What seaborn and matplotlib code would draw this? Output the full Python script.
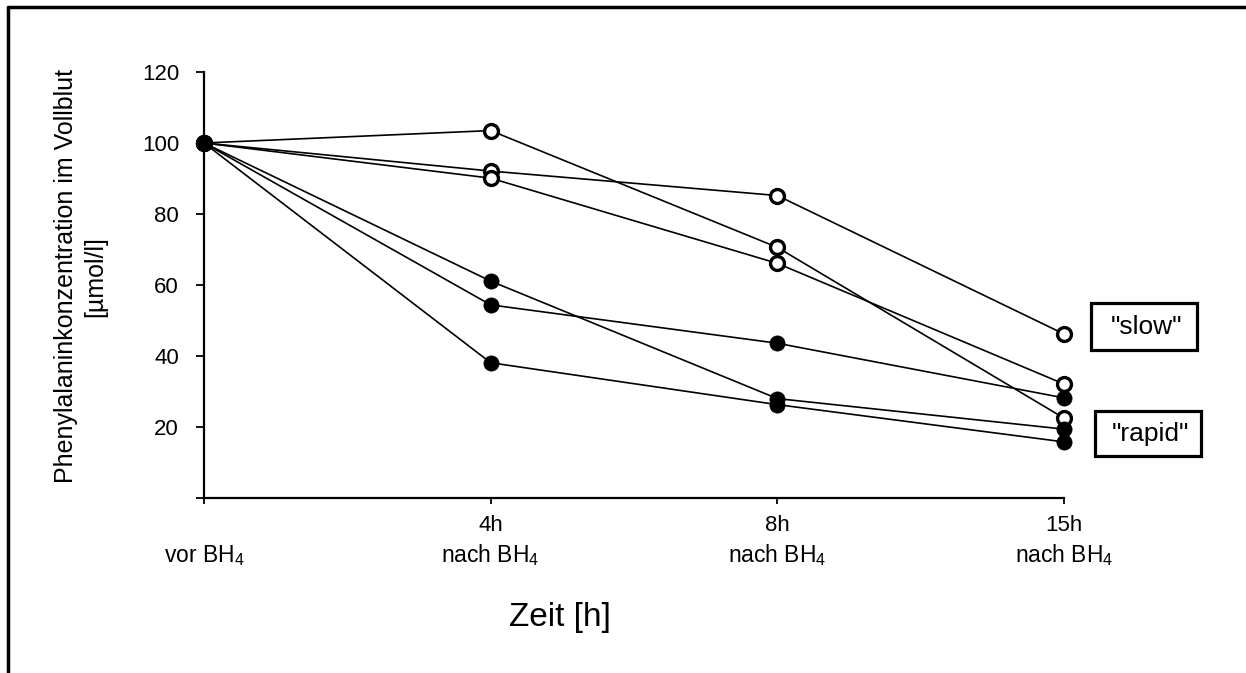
import numpy as np
import pandas as pd
import seaborn as sns
import matplotlib.pyplot as plt
from matplotlib.lines import Line2D
from matplotlib.patches import Rectangle

# Time points (category order on the x axis)
time_top = ["", "4h", "8h", "15h"]
time_bottom = ["vor BH$_4$", "nach BH$_4$", "nach BH$_4$", "nach BH$_4$"]

# Phe concentration in whole blood [umol/l]
slow_1 = [100, 103.5, 70.6, 22.5]
slow_2 = [100, 92.1, 85.2, 46.2]
slow_3 = [100, 90.1, 66.1, 32.1]
rapid_1 = [100, 61.1, 28.0, 19.4]
rapid_2 = [100, 54.4, 43.6, 28.2]
rapid_3 = [100, 38.1, 26.3, 15.8]

series = {"slow_1": slow_1, "slow_2": slow_2, "slow_3": slow_3,
          "rapid_1": rapid_1, "rapid_2": rapid_2, "rapid_3": rapid_3}

rows = []
for name, vals in series.items():
    for i, v in enumerate(vals):
        rows.append({"patient": name, "group": name.split("_")[0], "t": i, "phe": v})
df = pd.DataFrame(rows)

sns.set_style("ticks")
plt.rcParams['font.family'] = ['Liberation Sans', 'DejaVu Sans']
plt.rcParams['mathtext.default'] = 'regular'
for key in ['text.color', 'axes.labelcolor', 'xtick.color', 'ytick.color', 'axes.edgecolor']:
    plt.rcParams[key] = 'black'

fig = plt.figure(figsize=(12.46, 6.73), dpi=100)
ax = fig.add_axes([204 / 1246, 1 - 498 / 673, 860 / 1246, 426 / 673])

# connecting lines for each patient
sns.lineplot(data=df, x="t", y="phe", units="patient", estimator=None,
             color="black", linewidth=1.2, ax=ax, legend=False, zorder=2,
             clip_on=False)

# open circles = slow responders, filled = rapid responders
slow = df[df["group"] == "slow"]
rapid = df[df["group"] == "rapid"]
sns.scatterplot(data=slow, x="t", y="phe", marker="o", s=100, color="white",
                edgecolor="black", linewidth=2.4, ax=ax, legend=False, zorder=3,
                clip_on=False)
sns.scatterplot(data=rapid, x="t", y="phe", marker="o", s=120, color="black",
                edgecolor="black", linewidth=0.5, ax=ax, legend=False, zorder=4,
                clip_on=False)

ax.set_xlim(0, 3)
ax.set_ylim(0, 120)
ax.set_yticks(range(0, 121, 20))
ax.set_yticklabels([""] + [str(v) for v in range(20, 121, 20)], fontsize=16)
ax.set_xticks(range(len(time_top)))
ax.set_xticklabels(time_top, fontsize=16)
ax.tick_params(axis="y", length=6, width=1.3, pad=12)
ax.tick_params(axis="x", length=4, width=1.3, pad=8)

for i, lab in enumerate(time_bottom):
    ax.text(i, -0.135, lab, transform=ax.get_xaxis_transform(),
            ha="center", va="center", fontsize=16.5)

sns.despine(ax=ax)
for side in ["left", "bottom"]:
    ax.spines[side].set_linewidth(1.6)
ax.spines["left"].set_zorder(1)

ax.set_xlabel("Zeit [h]", fontsize=24)
ax.xaxis.set_label_coords(0.414, -0.243)
ax.set_ylabel("Phenylalaninkonzentration im Vollblut\n[µmol/l]",
              fontsize=18, linespacing=1.3)
ax.yaxis.set_label_coords(-0.112, 0.52)

# boxed group labels
for (x0, y0, x1, y1, txt) in [(1091, 303, 1197, 350, '"slow"'),
                              (1095, 411, 1201, 456, '"rapid"')]:
    fig.add_artist(Rectangle((x0 / 1246, 1 - y1 / 673), (x1 - x0) / 1246,
                             (y1 - y0) / 673, transform=fig.transFigure,
                             facecolor="white", edgecolor="black", linewidth=2.3))
    fig.text((x0 + x1) / 2 / 1246 + 0.002, 1 - (y0 + y1) / 2 / 673, txt,
             ha="center", va="center", fontsize=19)

# cropped frame around the figure (top and left edges visible)
fig.add_artist(Line2D([8 / 1246, 1.0], [1 - 7 / 673, 1 - 7 / 673],
                      transform=fig.transFigure, color="black", linewidth=2.5))
fig.add_artist(Line2D([8 / 1246, 8 / 1246], [1 - 7 / 673, 0.0],
                      transform=fig.transFigure, color="black", linewidth=2.5))

fig.savefig("out.png", dpi=100, facecolor="white")
